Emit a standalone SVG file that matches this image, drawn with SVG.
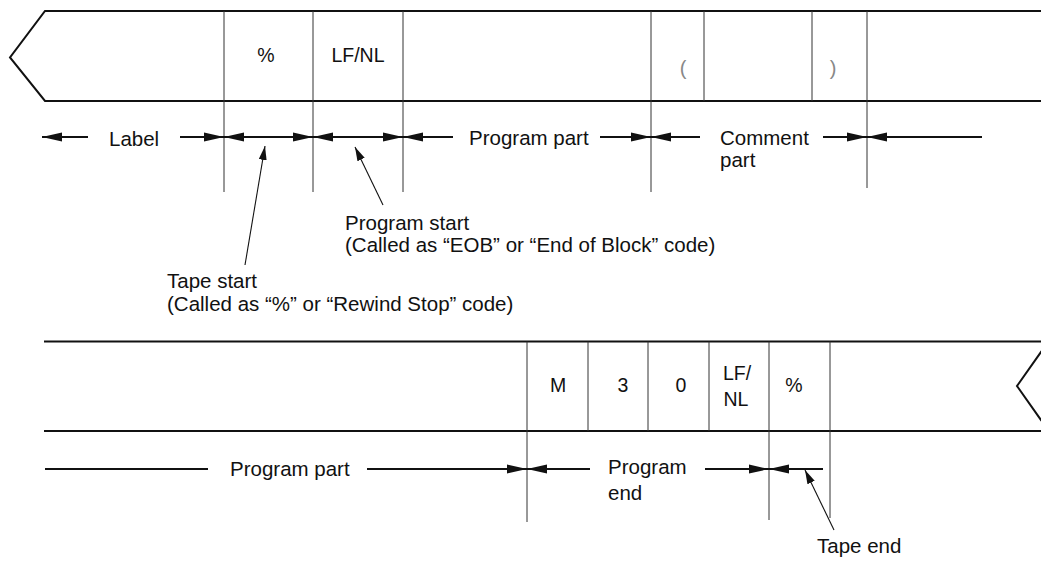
<svg xmlns="http://www.w3.org/2000/svg" width="1041" height="561" viewBox="0 0 1041 561">
<style>
.tape{fill:none;stroke:#111;stroke-width:2;stroke-linecap:square}
.thin{fill:none;stroke:#333;stroke-width:1}
.dim{fill:none;stroke:#111;stroke-width:1.8}
.lead{fill:none;stroke:#111;stroke-width:1.1}
.hd{fill:#111;stroke:none}
text{font-family:"Liberation Sans",Arial,Helvetica,sans-serif;fill:#111}
.lbl{font-size:20.5px}
.cell{font-size:19.5px;text-anchor:middle}
.par{font-size:20px;text-anchor:middle;fill:#888}
</style>
<defs>
<path id="hl" class="hd" d="M0,0 L20,-4.5 L20,4.5 Z"/>
<path id="hr" class="hd" d="M0,0 L-20,-4.5 L-20,4.5 Z"/>
<marker id="lh" viewBox="0 0 14 8" refX="14" refY="4" markerWidth="14" markerHeight="8" markerUnits="userSpaceOnUse" orient="auto">
<path d="M0,0 L14,4 L0,8 Z" fill="#111"/>
</marker>
</defs>
<rect width="1041" height="561" fill="#fff"/>

<g id="tape-top">
<path class="tape" d="M1041,11 H45 L10,57.5 L45,101 H1041"/>
<path class="thin" d="M224,11 V192 M313,11 V192 M403,11 V192 M651,11 V192 M704,11 V101 M812,11 V101 M867,11 V188"/>
<text class="cell" x="266" y="62">%</text>
<text class="cell" x="358" y="62">LF/NL</text>
<text class="par" x="683" y="75">(</text>
<text class="par" x="833" y="75">)</text>
</g>

<g id="tape-bottom">
<path class="tape" d="M45,341.5 H1041 M45,431 H1041"/>
<path class="tape" d="M1041,352 L1017,386 L1041,420"/>
<path class="thin" d="M527,341.5 V522 M588,341.5 V431 M648,341.5 V431 M709,341.5 V431 M769,341.5 V520 M830,341.5 V518"/>
<text class="cell" x="558" y="392">M</text>
<text class="cell" x="623" y="392">3</text>
<text class="cell" x="681" y="392">0</text>
<text class="cell" x="737" y="380">LF/</text>
<text class="cell" x="736" y="406">NL</text>
<text class="cell" x="794" y="392">%</text>
</g>

<g id="labels">
<text class="lbl" x="109" y="146">Label</text>
<text class="lbl" x="469" y="145">Program part</text>
<text class="lbl" x="720" y="145">Comment</text>
<text class="lbl" x="720" y="167">part</text>
<text class="lbl" x="345" y="230">Program start</text>
<text class="lbl" x="345" y="252">(Called as “EOB” or “End of Block” code)</text>
<text class="lbl" x="167" y="288">Tape start</text>
<text class="lbl" x="167" y="311">(Called as “%” or “Rewind Stop” code)</text>
<text class="lbl" x="230" y="476">Program part</text>
<text class="lbl" x="608" y="474">Program</text>
<text class="lbl" x="608" y="500">end</text>
<text class="lbl" x="817" y="553">Tape end</text>
</g>

<g id="connectors">
<path class="dim" d="M42,137 H88 M180,137 H403 M403,137 H453 M600,137 H700 M823,137 H982"/>
<use href="#hl" x="42" y="137"/>
<use href="#hr" x="224" y="137"/>
<use href="#hl" x="224" y="137"/>
<use href="#hr" x="313" y="137"/>
<use href="#hl" x="313" y="137"/>
<use href="#hr" x="403" y="137"/>
<use href="#hl" x="403" y="137"/>
<use href="#hr" x="651" y="137"/>
<use href="#hl" x="651" y="137"/>
<use href="#hr" x="867" y="137"/>
<use href="#hl" x="867" y="137"/>
<path class="dim" d="M45,469 H208 M367,469 H590 M705,469 H823"/>
<use href="#hr" x="527" y="469"/>
<use href="#hl" x="527" y="469"/>
<use href="#hr" x="769" y="469"/>
<use href="#hl" x="769" y="469"/>
<line class="lead" x1="245" y1="265" x2="265" y2="146" marker-end="url(#lh)"/>
<line class="lead" x1="383" y1="205" x2="355" y2="147" marker-end="url(#lh)"/>
<line class="lead" x1="834" y1="530" x2="805" y2="470" marker-end="url(#lh)"/>
</g>
</svg>
